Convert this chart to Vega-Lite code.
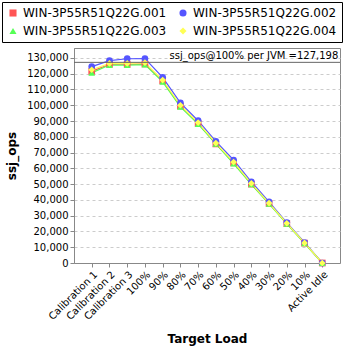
{
  "$schema": "https://vega.github.io/schema/vega-lite/v6.json",
  "autosize": {"type": "none"},
  "padding": {"left": 74, "top": 48, "right": 8, "bottom": 85},
  "width": 266,
  "height": 215,
  "config": {
    "font": "DejaVu Sans",
    "view": {"stroke": "#888888", "strokeWidth": 1},
    "axis": {"labelFont": "DejaVu Sans", "titleFont": "DejaVu Sans", "labelColor": "#000000", "titleColor": "#000000", "domainColor": "#888888", "tickColor": "#888888"},
    "legend": {"orient": "none", "legendX": -72, "legendY": -46, "columns": 2, "direction": "horizontal", "labelFontSize": 12, "labelFont": "DejaVu Sans", "symbolSize": 50, "symbolStrokeWidth": 0, "columnPadding": 10, "rowPadding": 6, "strokeColor": "#000000", "padding": 5, "labelLimit": 200}
  },
  "datasets": {
    "perf": [
      {"load": "Calibration 1", "host": "WIN-3P55R51Q22G.001", "ops": 121500},
      {"load": "Calibration 2", "host": "WIN-3P55R51Q22G.001", "ops": 126000},
      {"load": "Calibration 3", "host": "WIN-3P55R51Q22G.001", "ops": 126000},
      {"load": "100%", "host": "WIN-3P55R51Q22G.001", "ops": 126200},
      {"load": "90%", "host": "WIN-3P55R51Q22G.001", "ops": 115500},
      {"load": "80%", "host": "WIN-3P55R51Q22G.001", "ops": 99500},
      {"load": "70%", "host": "WIN-3P55R51Q22G.001", "ops": 88500},
      {"load": "60%", "host": "WIN-3P55R51Q22G.001", "ops": 75500},
      {"load": "50%", "host": "WIN-3P55R51Q22G.001", "ops": 63500},
      {"load": "40%", "host": "WIN-3P55R51Q22G.001", "ops": 50000},
      {"load": "30%", "host": "WIN-3P55R51Q22G.001", "ops": 37800},
      {"load": "20%", "host": "WIN-3P55R51Q22G.001", "ops": 25000},
      {"load": "10%", "host": "WIN-3P55R51Q22G.001", "ops": 12600},
      {"load": "Active Idle", "host": "WIN-3P55R51Q22G.001", "ops": 0},
      {"load": "Calibration 1", "host": "WIN-3P55R51Q22G.002", "ops": 124500},
      {"load": "Calibration 2", "host": "WIN-3P55R51Q22G.002", "ops": 128300},
      {"load": "Calibration 3", "host": "WIN-3P55R51Q22G.002", "ops": 129500},
      {"load": "100%", "host": "WIN-3P55R51Q22G.002", "ops": 129600},
      {"load": "90%", "host": "WIN-3P55R51Q22G.002", "ops": 117700},
      {"load": "80%", "host": "WIN-3P55R51Q22G.002", "ops": 101500},
      {"load": "70%", "host": "WIN-3P55R51Q22G.002", "ops": 90200},
      {"load": "60%", "host": "WIN-3P55R51Q22G.002", "ops": 77100},
      {"load": "50%", "host": "WIN-3P55R51Q22G.002", "ops": 65300},
      {"load": "40%", "host": "WIN-3P55R51Q22G.002", "ops": 51500},
      {"load": "30%", "host": "WIN-3P55R51Q22G.002", "ops": 38800},
      {"load": "20%", "host": "WIN-3P55R51Q22G.002", "ops": 25600},
      {"load": "10%", "host": "WIN-3P55R51Q22G.002", "ops": 13000},
      {"load": "Active Idle", "host": "WIN-3P55R51Q22G.002", "ops": 0},
      {"load": "Calibration 1", "host": "WIN-3P55R51Q22G.003", "ops": 120500},
      {"load": "Calibration 2", "host": "WIN-3P55R51Q22G.003", "ops": 125500},
      {"load": "Calibration 3", "host": "WIN-3P55R51Q22G.003", "ops": 125500},
      {"load": "100%", "host": "WIN-3P55R51Q22G.003", "ops": 125800},
      {"load": "90%", "host": "WIN-3P55R51Q22G.003", "ops": 114800},
      {"load": "80%", "host": "WIN-3P55R51Q22G.003", "ops": 99000},
      {"load": "70%", "host": "WIN-3P55R51Q22G.003", "ops": 88000},
      {"load": "60%", "host": "WIN-3P55R51Q22G.003", "ops": 75500},
      {"load": "50%", "host": "WIN-3P55R51Q22G.003", "ops": 63000},
      {"load": "40%", "host": "WIN-3P55R51Q22G.003", "ops": 49800},
      {"load": "30%", "host": "WIN-3P55R51Q22G.003", "ops": 37500},
      {"load": "20%", "host": "WIN-3P55R51Q22G.003", "ops": 24800},
      {"load": "10%", "host": "WIN-3P55R51Q22G.003", "ops": 12500},
      {"load": "Active Idle", "host": "WIN-3P55R51Q22G.003", "ops": 0},
      {"load": "Calibration 1", "host": "WIN-3P55R51Q22G.004", "ops": 122500},
      {"load": "Calibration 2", "host": "WIN-3P55R51Q22G.004", "ops": 126500},
      {"load": "Calibration 3", "host": "WIN-3P55R51Q22G.004", "ops": 126500},
      {"load": "100%", "host": "WIN-3P55R51Q22G.004", "ops": 127000},
      {"load": "90%", "host": "WIN-3P55R51Q22G.004", "ops": 116000},
      {"load": "80%", "host": "WIN-3P55R51Q22G.004", "ops": 100000},
      {"load": "70%", "host": "WIN-3P55R51Q22G.004", "ops": 89000},
      {"load": "60%", "host": "WIN-3P55R51Q22G.004", "ops": 76000},
      {"load": "50%", "host": "WIN-3P55R51Q22G.004", "ops": 64000},
      {"load": "40%", "host": "WIN-3P55R51Q22G.004", "ops": 50500},
      {"load": "30%", "host": "WIN-3P55R51Q22G.004", "ops": 38000},
      {"load": "20%", "host": "WIN-3P55R51Q22G.004", "ops": 25200},
      {"load": "10%", "host": "WIN-3P55R51Q22G.004", "ops": 12700},
      {"load": "Active Idle", "host": "WIN-3P55R51Q22G.004", "ops": 0}
    ],
    "ref": [{"avg": 127198, "label": "ssj_ops@100% per JVM =127,198", "pos": "Active Idle"}]
  },
  "encoding": {
    "x": {"field": "load", "type": "ordinal", "sort": null,
      "scale": {"type": "point", "padding": 1.07},
      "axis": {"title": "Target Load", "titleFontSize": 12, "titleFontWeight": "bold", "titlePadding": 12, "labelAngle": -45, "labelFontSize": 10, "labelAlign": "right", "labelBaseline": "top", "tickSize": 4, "grid": false}},
    "y": {"field": "ops", "type": "quantitative",
      "scale": {"domain": [0, 136300], "nice": false, "zero": true},
      "axis": {"title": "ssj_ops", "titleFontSize": 12, "titleFontWeight": "bold", "titlePadding": 8, "values": [0,10000,20000,30000,40000,50000,60000,70000,80000,90000,100000,110000,120000,130000], "format": ",d", "labelFontSize": 10, "tickSize": 4, "grid": true, "gridDash": [3, 3], "gridColor": "#cccccc"}}
  },
  "layer": [
    {
      "data": {"name": "perf"},
      "mark": {"type": "line", "strokeWidth": 1.2},
      "encoding": {
        "stroke": {"field": "host", "type": "nominal",
          "scale": {"range": ["#ff5555", "#5555ff", "#55ff55", "#ffff55"]},
          "legend": null},
        "order": {"field": "host"}
      }
    },
    {
      "data": {"name": "perf"},
      "mark": {"type": "point", "filled": true, "opacity": 1, "size": 45, "strokeWidth": 0},
      "encoding": {
        "fill": {"field": "host", "type": "nominal",
          "scale": {"range": ["#ff5555", "#5555ff", "#55ff55", "#ffff55"]},
          "legend": {"title": null}},
        "shape": {"field": "host", "type": "nominal",
          "scale": {"range": ["square", "circle", "triangle-up", "diamond"]},
          "legend": {"title": null}}
      }
    },
    {
      "data": {"name": "ref"},
      "mark": {"type": "rule", "color": "#666666", "strokeWidth": 1},
      "encoding": {"y": {"field": "avg", "type": "quantitative"}, "x": null}
    },
    {
      "data": {"name": "ref"},
      "mark": {"type": "text", "align": "right", "baseline": "bottom", "fontSize": 10, "dx": 16, "dy": -1, "color": "#000000"},
      "encoding": {
        "y": {"field": "avg", "type": "quantitative"},
        "x": {"field": "pos", "type": "ordinal", "sort": null},
        "text": {"field": "label"}
      }
    }
  ]
}
